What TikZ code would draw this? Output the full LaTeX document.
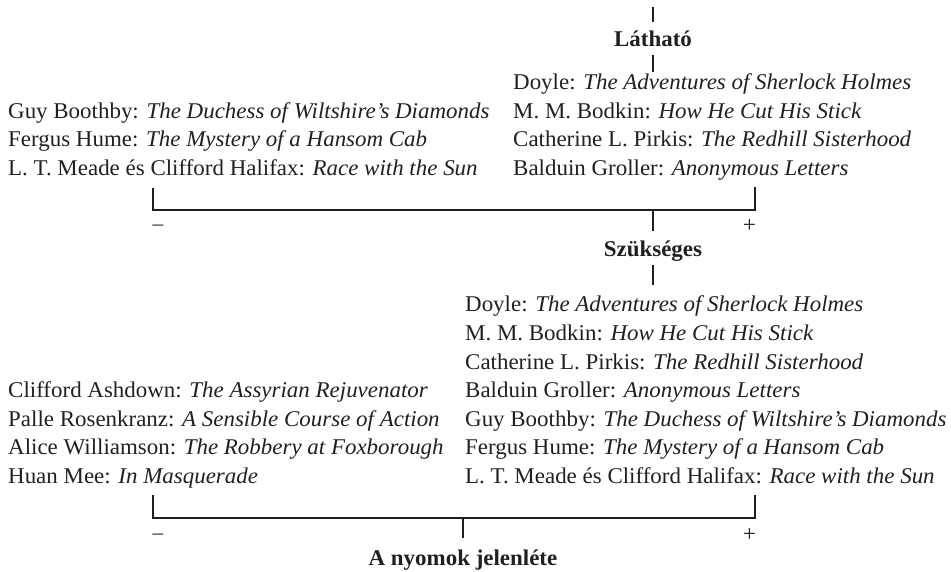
\documentclass[tikz,border=0pt]{standalone}
\usepackage{fontspec}
\setmainfont{Liberation Serif}[FakeStretch=1.02]
\definecolor{ink}{RGB}{35,31,32}
\begin{document}
\begin{tikzpicture}[x=1pt,y=-1pt,
  ln/.style={anchor=base west,inner sep=0pt,text=ink,font=\fontsize{22.5}{26}\selectfont},
  lab/.style={anchor=base,inner sep=0pt,text=ink,font=\fontsize{22.5}{26}\selectfont\bfseries},
  sgn/.style={inner sep=0pt,text=ink,font=\fontsize{21}{24}\selectfont},
  pls/.style={inner sep=0pt,text=ink,font=\fontsize{23}{26}\selectfont},
  br/.style={line width=1.3pt,draw=ink},
  stem/.style={line width=1.2pt,draw=ink}]
\useasboundingbox (0,0) rectangle (951,572);
% top
\coordinate (t0) at (653,7); \coordinate (t1) at (653,22);
\node[lab] (lat) at (653,46.5) {Látható};
\coordinate (t2) at (653,55); \coordinate (t3) at (653,72);
\draw[stem] (t0) -- (t1);
\draw[stem] (t2) -- (t3);
% top right block
\node[ln] (r1) at (513,90) {Doyle: \textit{The Adventures of Sherlock Holmes}};
\node[ln] (r2) at (513,118.5) {M. M. Bodkin: \textit{How He Cut His Stick}};
\node[ln] (r3) at (513,147) {Catherine L. Pirkis: \textit{The Redhill Sisterhood}};
\node[ln] (r4) at (513,175.5) {Balduin Groller: \textit{Anonymous Letters}};
% top left block
\node[ln] (l1) at (8,118.5) {Guy Boothby: \textit{The Duchess of Wiltshire’s Diamonds}};
\node[ln] (l2) at (8,147) {Fergus Hume: \textit{The Mystery of a Hansom Cab}};
\node[ln] (l3) at (8,175.5) {L. T. Meade és Clifford Halifax: \textit{Race with the Sun}};
% bracket 1
\coordinate (a1) at (153,188); \coordinate (a2) at (153,210);
\coordinate (a3) at (755,210); \coordinate (a4) at (755,187);
\draw[br] (a1) -- (a2) -- (a3) -- (a4);
\coordinate (a5) at (653,210); \coordinate (a6) at (653,231);
\draw[stem] (a5) -- (a6);
\node[sgn,anchor=base west] (m1) at (152.5,231) {–};
\node[pls,anchor=base] (p1) at (749.5,233) {+};
\node[lab] (szu) at (653,256.7) {Szükséges};
\coordinate (s1) at (653,265); \coordinate (s2) at (653,285);
\draw[stem] (s1) -- (s2);
% lower right block
\node[ln] (b1) at (465,312) {Doyle: \textit{The Adventures of Sherlock Holmes}};
\node[ln] (b2) at (465,340.5) {M. M. Bodkin: \textit{How He Cut His Stick}};
\node[ln] (b3) at (465,369) {Catherine L. Pirkis: \textit{The Redhill Sisterhood}};
\node[ln] (b4) at (465,397.5) {Balduin Groller: \textit{Anonymous Letters}};
\node[ln] (b5) at (465,426) {Guy Boothby: \textit{The Duchess of Wiltshire’s Diamonds}};
\node[ln] (b6) at (465,454.5) {Fergus Hume: \textit{The Mystery of a Hansom Cab}};
\node[ln] (b7) at (465,483) {L. T. Meade és Clifford Halifax: \textit{Race with the Sun}};
% lower left block
\node[ln] (c1) at (8,397.5) {Clifford Ashdown: \textit{The Assyrian Rejuvenator}};
\node[ln] (c2) at (8,426) {Palle Rosenkranz: \textit{A Sensible Course of Action}};
\node[ln] (c3) at (8,454.5) {Alice Williamson: \textit{The Robbery at Foxborough}};
\node[ln] (c4) at (8,483) {Huan Mee: \textit{In Masquerade}};
% bracket 2
\coordinate (d1) at (153,495); \coordinate (d2) at (153,518);
\coordinate (d3) at (755,518); \coordinate (d4) at (755,495);
\draw[br] (d1) -- (d2) -- (d3) -- (d4);
\coordinate (d5) at (463,518); \coordinate (d6) at (463,538);
\draw[stem] (d5) -- (d6);
\node[sgn,anchor=base west] (m2) at (152.5,539) {–};
\node[pls,anchor=base] (p2) at (749.5,541) {+};
\node[lab] (nyo) at (463,565) {A nyomok jelenléte};
\end{tikzpicture}
\end{document}
